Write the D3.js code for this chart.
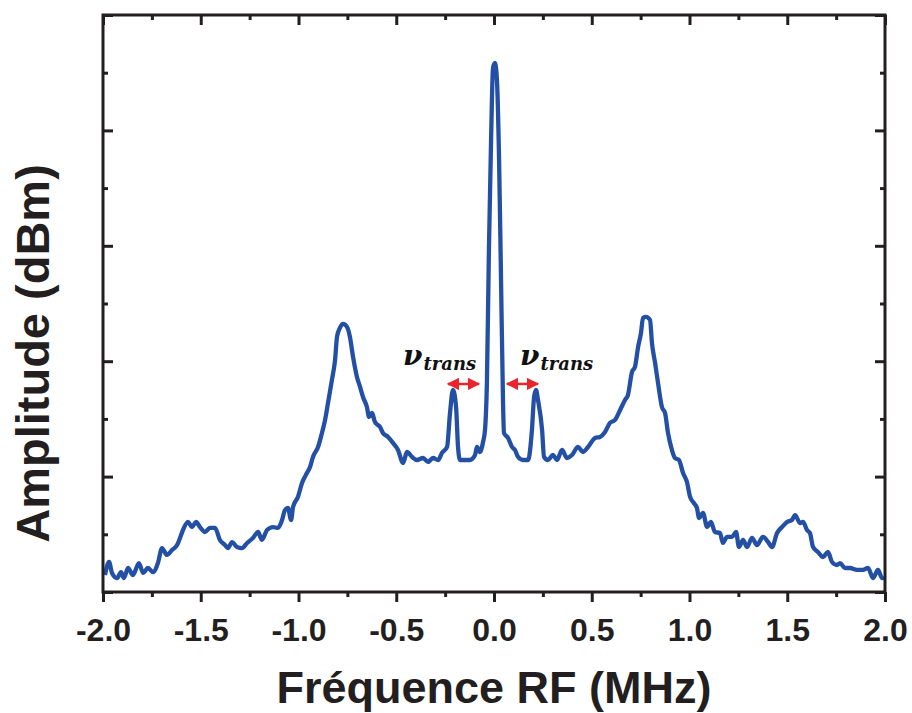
<!DOCTYPE html>
<html><head><meta charset="utf-8">
<script src="https://cdn.jsdelivr.net/npm/d3@7"></script>
<style>
html,body{margin:0;padding:0;background:#fff;}
svg{display:block;}
</style></head>
<body>
<svg id="chart" width="912" height="713"></svg>
<script>
// Frequency (MHz)
const freq = [-1.990,-1.969,-1.954,-1.928,-1.908,-1.893,-1.872,-1.847,-1.816,-1.795,-1.770,-1.744,-1.719,-1.698,-1.673,-1.647,-1.621,-1.606,-1.591,-1.565,-1.545,-1.524,-1.504,-1.478,-1.453,-1.427,-1.402,-1.376,-1.361,-1.340,-1.315,-1.289,-1.263,-1.233,-1.207,-1.187,-1.161,-1.130,-1.105,-1.084,-1.069,-1.054,-1.038,-1.028,-1.003,-0.982,-0.957,-0.941,-0.926,-0.900,-0.880,-0.864,-0.849,-0.829,-0.813,-0.803,-0.788,-0.772,-0.752,-0.737,-0.721,-0.701,-0.685,-0.670,-0.650,-0.639,-0.624,-0.609,-0.583,-0.568,-0.542,-0.517,-0.491,-0.465,-0.445,-0.419,-0.394,-0.363,-0.338,-0.312,-0.286,-0.266,-0.240,-0.225,-0.210,-0.194,-0.184,-0.174,-0.148,-0.123,-0.097,-0.087,-0.072,-0.056,-0.046,-0.036,-0.026,-0.015,-0.005,0.005,0.015,0.026,0.036,0.046,0.051,0.072,0.092,0.107,0.123,0.148,0.174,0.194,0.205,0.215,0.225,0.246,0.256,0.276,0.302,0.322,0.348,0.373,0.399,0.430,0.455,0.481,0.517,0.542,0.568,0.593,0.619,0.645,0.670,0.685,0.706,0.721,0.737,0.752,0.762,0.777,0.798,0.808,0.824,0.839,0.859,0.875,0.890,0.910,0.926,0.946,0.967,0.987,1.003,1.018,1.038,1.049,1.069,1.090,1.110,1.130,1.156,1.171,1.192,1.217,1.238,1.253,1.274,1.294,1.320,1.345,1.376,1.402,1.422,1.448,1.473,1.499,1.524,1.540,1.565,1.581,1.601,1.616,1.632,1.657,1.683,1.708,1.729,1.754,1.770,1.795,1.821,1.857,1.887,1.913,1.939,1.964,1.985,1.995];
// Amplitude (dBm, arbitrary reference)
const amp = [-88.53,-87.40,-88.35,-88.79,-88.27,-88.79,-87.92,-88.53,-87.49,-88.35,-87.92,-88.27,-87.49,-86.19,-86.79,-86.36,-85.93,-85.32,-84.63,-83.93,-84.37,-83.93,-84.37,-84.80,-84.45,-84.45,-85.49,-85.93,-86.19,-85.67,-86.10,-86.19,-85.75,-85.32,-84.80,-85.49,-84.63,-84.37,-84.45,-83.76,-82.89,-82.72,-83.76,-82.63,-81.76,-80.55,-79.69,-79.17,-78.30,-77.43,-76.22,-75.09,-73.62,-71.62,-69.89,-67.89,-67.11,-66.77,-67.03,-67.89,-69.63,-71.36,-72.23,-73.10,-73.97,-74.83,-74.49,-75.27,-75.70,-76.22,-76.56,-77.08,-77.69,-78.82,-77.87,-78.30,-78.56,-78.39,-78.73,-78.39,-78.56,-77.95,-77.43,-74.49,-72.49,-73.97,-77.43,-78.56,-78.56,-78.56,-78.13,-77.43,-77.87,-77.00,-75.96,-71.62,-60.36,-50.82,-44.58,-44.15,-45.62,-52.56,-62.96,-73.36,-76.22,-76.65,-77.43,-77.69,-78.30,-78.56,-78.56,-75.96,-73.10,-72.49,-73.36,-75.96,-78.30,-78.56,-78.13,-78.56,-77.69,-78.39,-78.13,-77.43,-77.87,-77.43,-76.65,-76.56,-76.13,-75.35,-75.09,-74.23,-73.36,-72.93,-70.93,-70.50,-68.77,-67.55,-66.25,-66.16,-66.42,-68.42,-70.15,-71.89,-73.97,-74.49,-76.22,-77.69,-78.39,-78.56,-79.69,-80.47,-81.76,-82.20,-82.72,-83.59,-83.15,-84.37,-83.93,-84.80,-84.89,-85.75,-85.23,-85.23,-84.80,-86.10,-85.49,-86.10,-85.32,-85.93,-85.23,-85.67,-86.10,-84.89,-84.37,-83.93,-83.76,-83.33,-84.02,-83.93,-84.63,-84.89,-86.10,-86.53,-86.97,-86.53,-87.40,-87.66,-87.49,-87.92,-87.92,-88.09,-88.09,-87.92,-88.79,-88.09,-88.79,-88.70];

const xTickLabels = ["-2.0","-1.5","-1.0","-0.5","0.0","0.5","1.0","1.5","2.0"];
const xMajor = [-2,-1.5,-1,-0.5,0,0.5,1,1.5,2];
const xMinor = [-1.75,-1.25,-0.75,-0.25,0.25,0.75,1.25,1.75];
const yMajor = [-90,-80,-70,-60,-50,-40];
const yMinor = [-85,-75,-65,-55,-45];

// annotations: arrows [x1, x2, y] and labels [x, y]
const arrowsX1 = [-0.246, 0.056];
const arrowsX2 = [-0.066, 0.235];
const arrowsY = [-71.97, -71.97];
const labelX = [-0.465, 0.133];
const labelY = [-70.3, -70.3];

const svg = d3.select("#chart");
const L = 103, R = 885, T = 15, B = 592;
const x = d3.scaleLinear().domain([-2,2]).range([L,R]);
const y = d3.scaleLinear().domain([-90,-40]).range([B,T]);
const axisColor = "#231f20";

const data = freq.map((f,i)=>({f, a: amp[i]}));

// line
svg.append("path")
  .datum(data)
  .attr("fill","none")
  .attr("stroke","#2350a4")
  .attr("stroke-width",4.3)
  .attr("stroke-linejoin","round")
  .attr("d", d3.line().x(d=>x(d.f)).y(d=>y(d.a)).curve(d3.curveMonotoneX));

// axes
function styleAxis(g){
  g.select(".domain").remove();
  g.selectAll(".tick line").attr("stroke",axisColor).attr("stroke-width",3);
}
// bottom: outward ticks with labels
const gB = svg.append("g").attr("transform",`translate(0,${B})`)
  .call(d3.axisBottom(x).tickValues(xMajor).tickSize(10).tickPadding(16).tickFormat((d,i)=>xTickLabels[i]));
styleAxis(gB);
gB.selectAll("text").attr("font-family","Liberation Sans, Arial, sans-serif").attr("font-weight","bold").attr("font-size",32).attr("fill",axisColor);
const gBm = svg.append("g").attr("transform",`translate(0,${B})`)
  .call(d3.axisBottom(x).tickValues(xMinor).tickSize(5).tickFormat(""));
styleAxis(gBm);
// top: inward
const gT = svg.append("g").attr("transform",`translate(0,${T})`)
  .call(d3.axisBottom(x).tickValues(xMajor).tickSize(10).tickFormat(""));
styleAxis(gT);
const gTm = svg.append("g").attr("transform",`translate(0,${T})`)
  .call(d3.axisBottom(x).tickValues(xMinor).tickSize(5).tickFormat(""));
styleAxis(gTm);
// left: inward
const gL = svg.append("g").attr("transform",`translate(${L},0)`)
  .call(d3.axisRight(y).tickValues(yMajor).tickSize(10).tickFormat(""));
styleAxis(gL);
const gLm = svg.append("g").attr("transform",`translate(${L},0)`)
  .call(d3.axisRight(y).tickValues(yMinor).tickSize(5).tickFormat(""));
styleAxis(gLm);
// right: inward
const gR = svg.append("g").attr("transform",`translate(${R},0)`)
  .call(d3.axisLeft(y).tickValues(yMajor).tickSize(10).tickFormat(""));
styleAxis(gR);
const gRm = svg.append("g").attr("transform",`translate(${R},0)`)
  .call(d3.axisLeft(y).tickValues(yMinor).tickSize(5).tickFormat(""));
styleAxis(gRm);

// frame
svg.append("rect").attr("x",L).attr("y",T).attr("width",R-L).attr("height",B-T)
  .attr("fill","none").attr("stroke",axisColor).attr("stroke-width",3);

// titles
svg.append("text").attr("x",(L+R)/2).attr("y",703).attr("text-anchor","middle")
  .attr("font-family","Liberation Sans, Arial, sans-serif").attr("font-weight","bold")
  .attr("font-size",45).attr("fill",axisColor).text("Fréquence RF (MHz)");
svg.append("text").attr("transform",`translate(49,${(T+B)/2 + 50}) rotate(-90)`).attr("text-anchor","middle")
  .attr("font-family","Liberation Sans, Arial, sans-serif").attr("font-weight","bold")
  .attr("font-size",47).attr("fill",axisColor).text("Amplitude (dBm)");

// arrows
const defs = svg.append("defs");
defs.append("marker").attr("id","ah").attr("viewBox","0 0 10 10").attr("refX",9).attr("refY",5)
  .attr("markerWidth",5).attr("markerHeight",5).attr("orient","auto-start-reverse").attr("markerUnits","strokeWidth")
  .append("path").attr("d","M0,0 L10,5 L0,10 z").attr("fill","#e8252b");
arrowsX1.forEach((x1,i)=>{
  svg.append("line").attr("x1",x(x1)+2).attr("x2",x(arrowsX2[i])-2).attr("y1",y(arrowsY[i])).attr("y2",y(arrowsY[i]))
    .attr("stroke","#e8252b").attr("stroke-width",2.5)
    .attr("marker-start","url(#ah)").attr("marker-end","url(#ah)");
});
// labels
labelX.forEach((lx,i)=>{
  const t = svg.append("text").attr("x",x(lx)).attr("y",y(labelY[i]))
    .attr("font-family","DejaVu Serif, serif").attr("font-style","italic").attr("font-weight","bold").attr("fill","#111");
  t.append("tspan").attr("font-size",28).text("ν");
  t.append("tspan").attr("font-size",18).attr("dy",5).attr("dx",1).text("trans");
});
</script>
</body></html>
